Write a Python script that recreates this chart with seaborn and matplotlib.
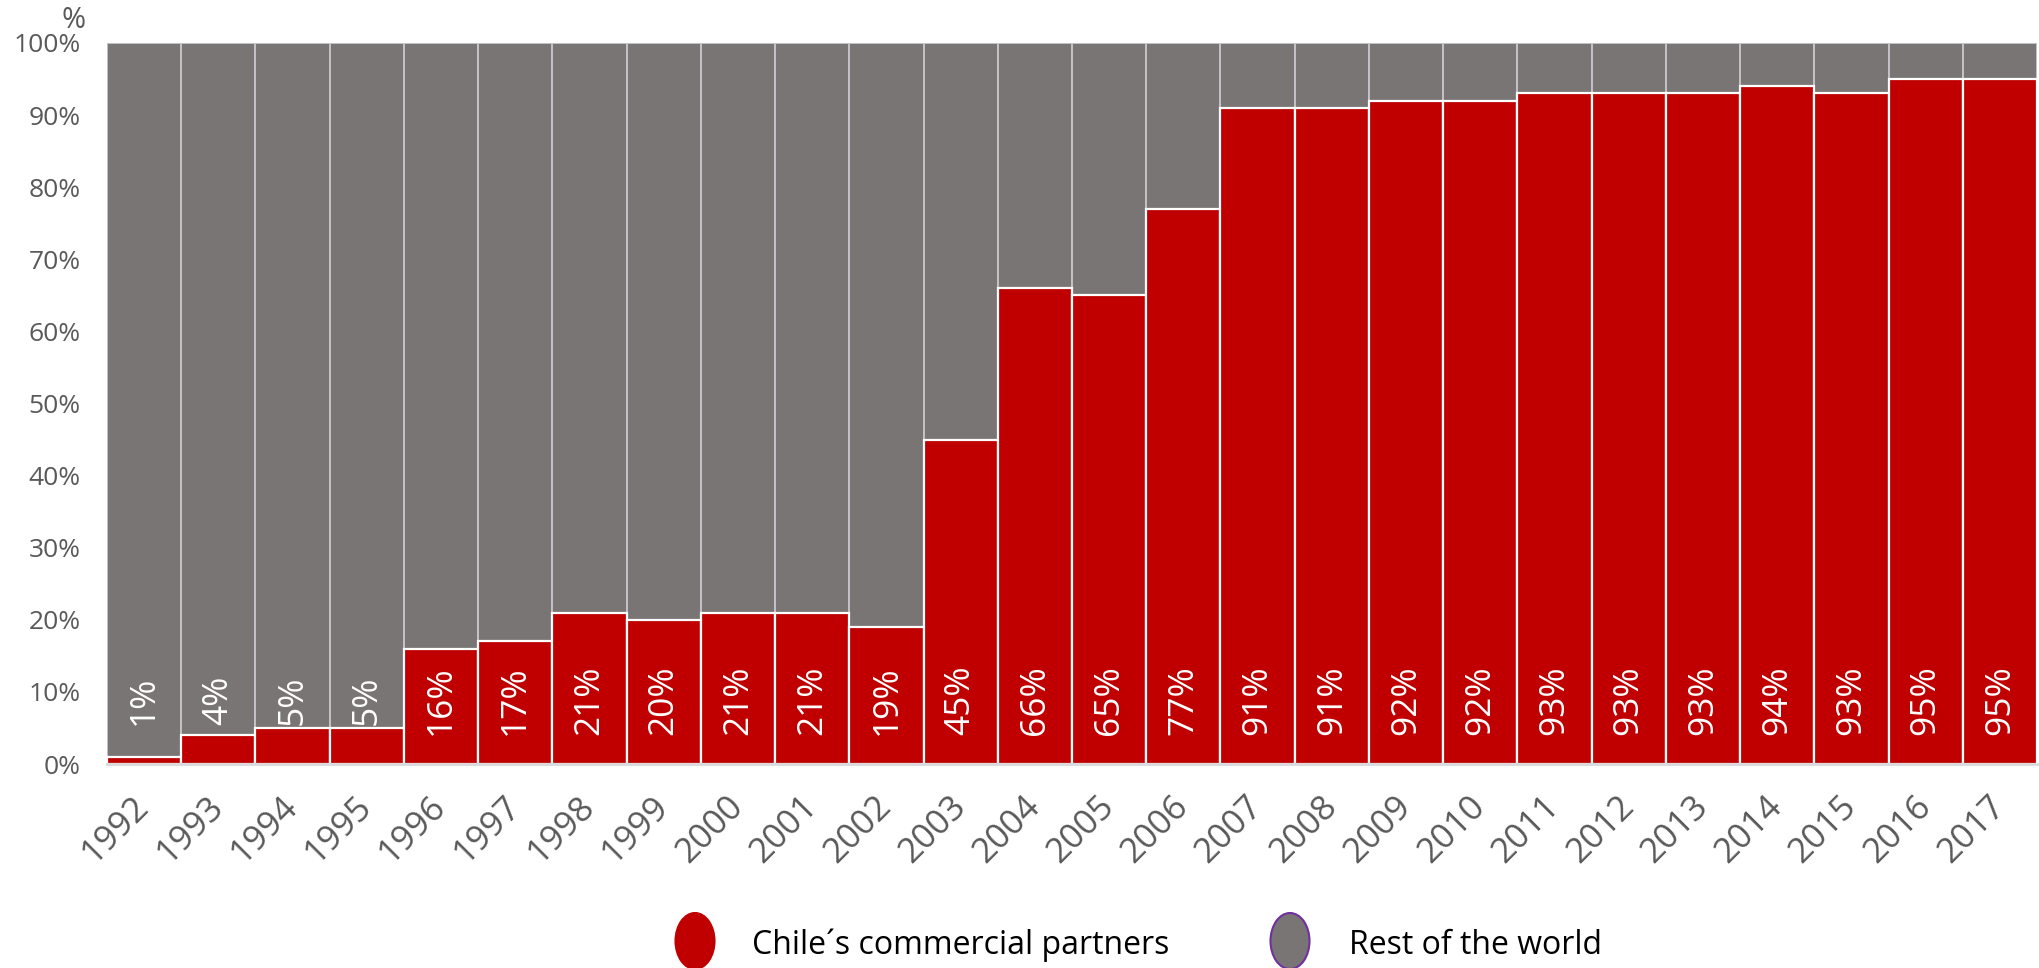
import matplotlib
matplotlib.use("Agg")
import matplotlib.pyplot as plt
from matplotlib.patches import Ellipse
import numpy as np
import pandas as pd
import seaborn as sns

# Share of trade with Chile's commercial partners, by year (%)
years = [str(y) for y in range(1992, 2018)]
partners = [1, 4, 5, 5, 16, 17, 21, 20, 21, 21, 19, 45, 66, 65, 77,
            91, 91, 92, 92, 93, 93, 93, 94, 93, 95, 95]
rest_of_world = [100 - v for v in partners]
y_ticks = [0, 10, 20, 30, 40, 50, 60, 70, 80, 90, 100]
legend_labels = ["Chile\u00b4s commercial partners", "Rest of the world"]

RED = "#c00000"
GREY = "#7a7575"
TICK_GREY = "#595959"

sns.set_theme(style="white")
plt.rcParams["font.family"] = ["Open Sans", "DejaVu Sans"]

W, H = 2039, 968
fig = plt.figure(figsize=(W / 100, H / 100), dpi=100)
ax = fig.add_axes([107 / W, 1 - 764 / H, (2037 - 107) / W, (764 - 43) / H])

df = pd.DataFrame({"year": years, "partners": partners,
                   "rest": rest_of_world})
df["total"] = df["partners"] + df["rest"]

# Stacked bars: full-height grey bar underneath, red share on top of it
sns.barplot(data=df, x="year", y="total", color=GREY, width=1.0,
            saturation=1, edgecolor="#c4c4c8", linewidth=1.4, ax=ax)
sns.barplot(data=df, x="year", y="partners", color=RED, width=1.0,
            saturation=1, edgecolor="white", linewidth=1.6, ax=ax)

# Value labels, rotated, near the base of each bar
for i, v in enumerate(df["partners"]):
    ax.text(i, 8.8, f"{v}%", rotation=90, ha="center", va="center",
            color="white", fontsize=25.5)

ax.set_xlim(-0.5, len(years) - 0.5)
ax.set_ylim(0, 100)
ax.set_yticks(y_ticks)
ax.set_yticklabels([f"{t}%" for t in y_ticks], color=TICK_GREY, fontsize=19)
ax.set_xticks(range(len(years)))
ax.set_xticklabels(years, rotation=45, ha="right", va="center",
                   rotation_mode="anchor", color=TICK_GREY, fontsize=25)
ax.tick_params(axis="y", length=0, pad=19)
ax.tick_params(axis="x", length=0, pad=27)
ax.set_xlabel("")
ax.set_ylabel("")
for side in ["top", "right", "left"]:
    ax.spines[side].set_visible(False)
ax.spines["bottom"].set_color("#d9d9d9")
ax.spines["bottom"].set_linewidth(2)

fig.text(74 / W, 1 - 21 / H, "%", ha="center", va="center",
         color=TICK_GREY, fontsize=21)

# Legend with oval markers along the bottom
handles = [(695, RED, RED), (1290, GREY, "#7030a0")]
text_x = [752, 1349]
for (cx, fc, ec), tx, label in zip(handles, text_x, legend_labels):
    fig.add_artist(Ellipse((cx / W, 1 - 941 / H), 39 / W, 56 / H,
                           transform=fig.transFigure, facecolor=fc,
                           edgecolor=ec, linewidth=1.5))
    fig.text(tx / W, 1 - 945 / H, label, ha="left", va="center",
             color="black", fontsize=23)

fig.savefig("out.png", dpi=100)
